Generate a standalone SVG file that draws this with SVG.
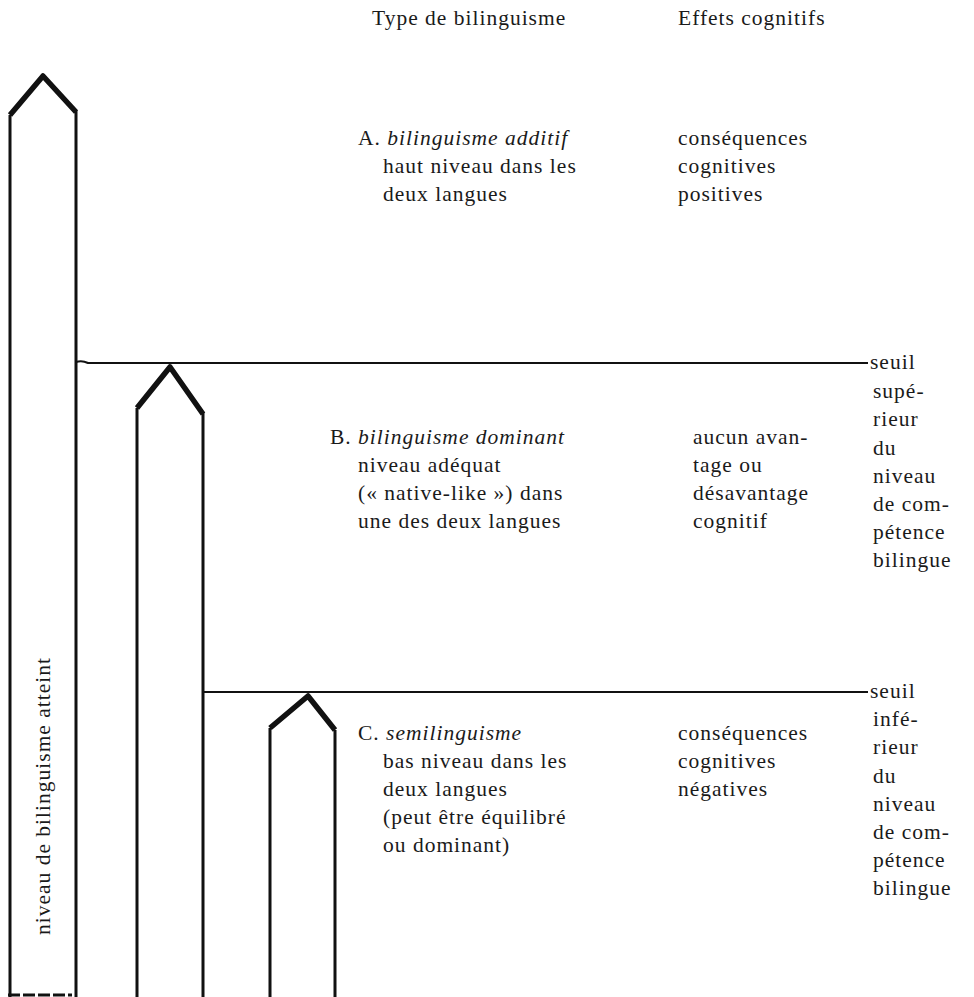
<svg xmlns="http://www.w3.org/2000/svg" width="974" height="997" viewBox="0 0 974 997">
<style>
text{font-family:"Liberation Serif","DejaVu Serif",serif;font-size:21.5px;fill:#1a1a1a;letter-spacing:1px}
.i{font-style:italic}
.post{fill:none;stroke:#111;stroke-width:3;stroke-linejoin:miter;stroke-linecap:butt}
.roof{fill:none;stroke:#111;stroke-width:5.5;stroke-linejoin:round}
.thr{stroke:#111;stroke-width:2;fill:none}
</style>
<rect width="974" height="997" fill="#fff"/>
<g id="headers">
<text x="372" y="25">Type de bilinguisme</text>
<text x="678" y="25">Effets cognitifs</text>
</g>
<g id="col1">
<path class="post" d="M10,997 V115"/>
<path class="post" d="M76,997 V110"/>
<path class="roof" d="M10,115 L43,76 L76,112"/>
<path class="post" d="M8,995 H72" stroke-dasharray="12 3" stroke-width="2"/>
<text transform="translate(50,796) rotate(-90)" text-anchor="middle">niveau de bilinguisme atteint</text>
</g>
<g id="col2">
<path class="post" d="M137,997 V408"/>
<path class="post" d="M203,997 V412"/>
<path class="roof" d="M137,408 L170,367 L203,414"/>
</g>
<g id="col3">
<path class="post" d="M270,997 V728"/>
<path class="post" d="M335,997 V730"/>
<path class="roof" d="M270,728 L308,696 L335,730"/>
</g>
<g id="connectors">
<path class="thr" d="M76,362 Q82,360 88,363 H868"/>
<path class="thr" d="M203,692 H868"/>
</g>
<g id="blockA">
<text x="358" y="145">A. <tspan class="i">bilinguisme additif</tspan></text>
<text x="383" y="173">haut niveau dans les</text>
<text x="383" y="201">deux langues</text>
<text x="678" y="145">conséquences</text>
<text x="678" y="173">cognitives</text>
<text x="678" y="201">positives</text>
</g>
<g id="blockB">
<text x="330" y="444">B. <tspan class="i">bilinguisme dominant</tspan></text>
<text x="358" y="472">niveau adéquat</text>
<text x="358" y="500">(« native-like ») dans</text>
<text x="358" y="528">une des deux langues</text>
<text x="693" y="444">aucun avan-</text>
<text x="693" y="472">tage ou</text>
<text x="693" y="500">désavantage</text>
<text x="693" y="528">cognitif</text>
</g>
<g id="blockC">
<text x="358" y="740">C. <tspan class="i">semilinguisme</tspan></text>
<text x="383" y="768">bas niveau dans les</text>
<text x="383" y="796">deux langues</text>
<text x="383" y="824">(peut être équilibré</text>
<text x="383" y="852">ou dominant)</text>
<text x="678" y="740">conséquences</text>
<text x="678" y="768">cognitives</text>
<text x="678" y="796">négatives</text>
</g>
<g id="thresholdUpper">
<text x="870" y="369">seuil</text>
<text x="873" y="398">supé-</text>
<text x="873" y="426">rieur</text>
<text x="873" y="455">du</text>
<text x="873" y="483">niveau</text>
<text x="873" y="511">de com-</text>
<text x="873" y="539">pétence</text>
<text x="873" y="567">bilingue</text>
</g>
<g id="thresholdLower">
<text x="870" y="698">seuil</text>
<text x="873" y="726">infé-</text>
<text x="873" y="754">rieur</text>
<text x="873" y="783">du</text>
<text x="873" y="811">niveau</text>
<text x="873" y="839">de com-</text>
<text x="873" y="867">pétence</text>
<text x="873" y="895">bilingue</text>
</g>
</svg>
